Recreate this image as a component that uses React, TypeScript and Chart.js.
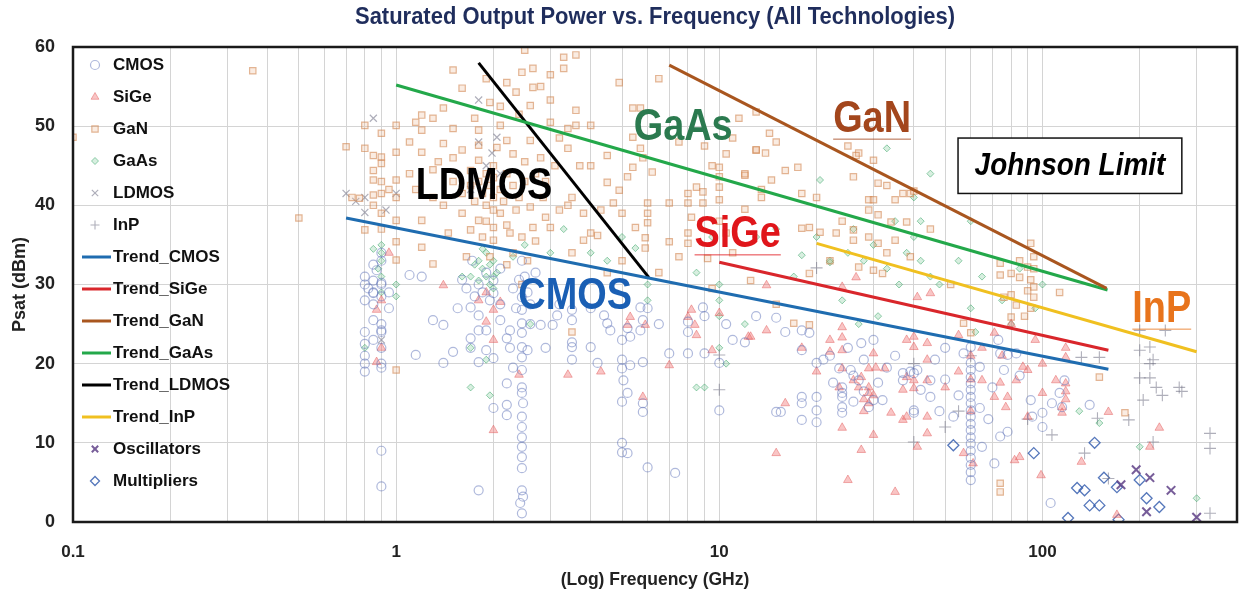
import { useEffect, useRef } from 'react';
import { Chart, registerables } from 'chart.js';
import { drawPoint } from 'chart.js/helpers';

Chart.register(...registerables);

type P = [number, number];

const titleText = 'Saturated Output Power vs. Frequency (All Technologies)';
const xAxisTitle = '(Log) Frequency (GHz)';
const yAxisTitle = 'Psat (dBm)';

const xGridValues = [0.1, 0.2, 0.3, 0.4, 0.5, 0.6, 0.7, 0.8, 0.9, 1, 2, 3, 4, 5, 6, 7, 8, 9, 10, 20, 30, 40, 50, 60, 70, 80, 90, 100, 200, 300, 400];
const xLabelValues = [0.1, 1, 10, 100];
const yTickValues = [0, 10, 20, 30, 40, 50, 60];

const cmos: P[] = [
  [0.8,31],[0.8,30],[0.8,28],[0.82,29.5],[0.85,30.5],[0.85,29],[0.85,27.5],[0.9,30],[0.9,28.5],[0.9,25],[0.9,24],[0.8,24],[0.8,22.5],[0.8,21],[0.8,20],[0.8,19],[0.9,20],[0.9,19.5],[0.85,25.5],[0.9,34],[0.9,33],[0.85,32.5],[0.9,9],[0.9,4.5],[0.87,31.8],[0.9,30.2],[0.85,28.9],[0.9,24.2],[1.1,31.2],[1.15,21.1],[0.95,29],[0.95,27],[0.85,23],[0.9,22],
  [1.4,24.9],[1.5,21.5],[1.4,20.1],[1.6,30.6],[1.7,27.1],[1.8,26.1],[1.7,23.2],[1.7,22],[1.8,24.2],[1.9,24.2],[1.8,20.2],[1.9,21.7],[1.72,33],[2,20.7],[2,14.4],[2.2,14.8],[2.2,13.5],[1.8,4],[2,28.9],[2.1,25.5],[2.25,24.2],[2.2,23.2],[2.25,22],[2.4,30.6],[2.45,28.4],[2.45,26.8],[2.45,25.1],[2.45,23.9],[2.45,22.1],[2.45,20.8],[2.45,19.2],[2.45,17],[2.45,16.3],[2.47,15],[2.45,13.3],[2.45,12],[2.45,10.7],[2.45,9.5],[2.45,8.2],[2.45,6.8],[2.45,4],[2.47,3.2],[2.42,2.4],[2.45,1.1],[2.8,24.9],[3.05,24.9],[3.15,26.1],[2.55,21.7],[1.8,30],[1.85,29],[1.9,31.5],[1.95,28],[2,30.5],[1.75,28.5],[1.65,29.5],[2.1,27.5],[2.3,29.5],[2.35,27],[2.5,31],[2.55,29],[2.6,27.5],[2.7,31.5],[2.45,33],[2.1,32],[1.55,27],[1.3,25.5],[1.2,31],[2.3,19.5],[2.2,17.5],[2.6,25],[2.9,22],
  [3.5,25.5],[3.5,22.7],[3.5,22.1],[3.5,20.5],[4,22.1],[4.2,20.1],[4.5,25.1],[4.6,24.2],[4.4,26.1],[5,23],[5,20.5],[5,19.4],[5.05,17.9],[5,15.2],[5.2,16.3],[5.3,19.8],[5.3,23.4],[5.2,24.5],[5.7,27.1],[5.8,25.5],[5.7,24.2],[5.8,20.2],[5.8,15],[5.8,13.9],[5,10],[5,8.8],[5.2,8.7],[6,6.9],[7.3,6.2],[7,21.3],[8,21.3],[8,25.3],[8.9,27.1],[9,21.3],[10,20.1],[10,14.1],[12,22.7],[3.5,26.8],[3.2,27.5],[4,27],[6,27],[6.5,25],[8,24],[9,26],
  [15,25.8],[15,13.9],[15.5,13.9],[18,21.7],[18,24.2],[18,15.8],[18,15],[18,12.9],[19,23.9],[20,20.1],[20,15.8],[20,14.1],[20,12.6],[21,20.5],[22.5,17.6],[23.5,19.4],[24,17],[24,15.8],[24,14.5],[24,13.8],[24,16.3],[26,15.2],[27.5,22.6],[30,15.4],[31,17.6],[32,15.4],[37,18.8],[40,18.8],[40,14.1],[27,17.9],[25.5,19.2],[26,18.5],[28,16.5],[29,14.5],[28,20.5],[33,19.5],[35,21],[30,23],[25,22],[22,21],[16,24],[13,26],[11,23],[10.5,25],
  [57,21.3],[60,20.1],[60,22.1],[60,19.2],[60,18.3],[60,17.5],[60,16.7],[60,15.8],[60,15],[60,14.1],[60,13.3],[60,12.4],[60,11.6],[60,10.7],[60,9.9],[60,9],[60,8.1],[60,7.2],[60,6.3],[60,5.3],[42,16.7],[45,17.9],[46.5,20.5],[45,15.8],[53,13.3],[64,19.6],[64,14.4],[65,9.5],[71,7.4],[73,23],[74,21.3],[76,19.2],[78,21.1],[83,21.3],[78,11.4],[74,10.8],[92,15.4],[93,13.3],[100,13.8],[100,12],[106,2.4],[107,15],[113,16.3],[117,17.9],[40,13.8],[39,19],[41,19.2],[37,17.9],[115,14.5],[140,14.8],[50,18],[55,16],[70,17],[85,18.5],[50,22],[48,14],[68,13],
];

const sige: P[] = [
  [0.9,28],[0.87,26.8],[0.9,22],[0.87,20.2],[0.95,34],[1.4,29.9],[1.9,29],[2,26.8],[1.9,25.3],[2,23],[2,11.6],[2.4,18.6],[2.1,27.8],[1.8,28],[3.4,18.6],[4.3,19],[5.3,25.9],[5.2,24.9],[5.9,24.9],[5.8,15.8],[7,19.8],[8.2,26.8],[8.4,24.9],[8.5,23.6],[8,25.9],[9.5,21.7],[12.3,23.4],[10,26.4],[14,29.9],[12.5,23.4],[14,24.2],[15,8.7],
  [22,23],[22,21.5],[24,24.6],[24,23.3],[24,21.7],[24,19.4],[23.5,17],[24,11.9],[25,5.3],[30,21.3],[29,19.4],[27.5,18.3],[27,17],[29,16.3],[29,17],[26,17.9],[30,11],[27.5,9.1],[24,29.7],[26.5,30.9],[30.5,19.5],[32.5,19.4],[35,3.8],[37,12.9],[37,16.7],[38,23],[40,22.1],[38,18.3],[34,13.8],[28,14],[28,15.5],[29,15],[30,16],[20,19],[18,22],[16,15],
  [45,28.9],[41,28.4],[40,23.4],[44,22.6],[44,20.5],[40,17.9],[44,17.9],[40,16.9],[38,13.3],[44,13.3],[44,11.2],[41,9.5],[55,23.6],[65,17.9],[71,15.8],[71,23.9],[74,17.6],[78,15.8],[77,14.5],[83,17.9],[87,19.6],[90,19.2],[95,23],[90,13.3],[85,8.2],[82,7.8],[99,5.9],[100,16.3],[110,17.9],[118,20.8],[118,17.5],[115,14.5],[57,8.7],[61,7.4],[118,22],[118,16.5],[118,15.5],[115,13.8],[160,13.9],[230,11.9],[215,9.5],[132,7.6],[170,0.9],[60,18],[60,14],[60,21],[55,19],[50,17],[65,22],[75,21],[80,25],[100,20],
];

const gan: P[] = [
  [0.1,48.6],[0.36,57],[0.5,38.4],[0.7,47.4],[0.73,41],[0.77,40.9],[0.8,50.1],[0.8,47.2],[0.8,36.9],[0.85,46.3],[0.85,44.4],[0.85,43.2],[0.85,41.3],[0.9,46.1],[0.9,45.3],[0.9,43],[0.9,41.5],[0.9,39],[0.9,49.1],[1,50.1],[1,46.7],[1,43.2],[1,41],[1,38.1],[1,35.4],[1,33.1],[1,19.2],[0.85,40],[0.95,42],[0.9,37],
  [1.2,51.4],[1.3,51],[1.4,52.3],[1.5,57.1],[1.6,54.8],[1.2,49.5],[1.5,49.7],[1.8,49.5],[2.1,50.1],[1.6,47],[1.2,46.7],[1.8,47.6],[2.05,47.3],[2.2,48.2],[2.6,48.2],[1.7,44.4],[1.8,45.7],[1.7,36.9],[1.8,38.1],[2,39.4],[2,37.2],[2.1,39],[2.35,39.4],[2.6,39.8],[2.85,41],[3.2,39.4],[3,37.2],[2.65,37.2],[2.25,36.5],[2.45,36],[2,35.6],[1.2,38.1],[1.2,34.7],[1.45,36.5],[2.5,59.6],[2.45,56.8],[2.65,57.3],[3.3,58.7],[3.3,57.3],[2.35,54.3],[2.65,54.9],[2.2,55.5],[1.95,53],[3,53.3],[2.6,52.6],[1.1,44],[1.15,42],[1.3,41],[1.3,44.5],[1.4,40],[1.5,43],[1.6,41.5],[1.6,39],[1.7,42.5],[1.75,40.5],[1.8,43],[1.85,41.5],[1.9,40],[1.9,44],[1.95,42.5],[2,41],[2,43.5],[2,45],[2.1,42],[2.15,40.5],[2.2,44],[2.3,42.5],[2.4,41],[2.5,43],[2.5,45.5],[2.7,44],[2.8,46],[2.9,43],[1.9,38],[2.2,37.5],[1.85,36],[1.65,33.5],[2.3,34],[2.7,35.5],[2.9,38.5],[3.1,45],[3.2,48.5],[3,50.5],[2.4,51.5],[2.8,55],[3,56.5],[1.75,51],[1.9,56],[2.1,52.5],[2.3,46.5],[1.5,46],[1.4,47.8],[1.35,45.5],[1.1,48],[1.15,50.5],[2.55,33],[2.2,32.5],[1.95,33.5],[3.5,24],[1.3,32.6],[2.45,30],
  [3.6,59],[4.9,55.5],[3.6,52],[5.4,52.3],[5.7,52.3],[11.5,51],[13,51.8],[3.6,50.1],[4,50.1],[3.4,49.7],[3.4,47.2],[5.4,48.6],[5.7,47.2],[5.8,46],[4.5,46.3],[3.7,45],[4,45],[4.5,42.9],[5.2,43.6],[5.4,44.8],[6.2,44.2],[4.9,41.9],[6,40.3],[7,40.3],[8,41.5],[8,40.3],[8.5,42.3],[8.9,41.7],[8.9,40.3],[10,44.8],[10,43.6],[10,42.3],[10,40.7],[12,44],[13,47],[4.7,40.3],[3.5,41],[3.4,40],[3.8,39],[4.3,39.4],[6,39],[6,37.8],[5.5,37.2],[5,39],[4.2,36.2],[4,36.5],[3.8,35.6],[5.9,35.9],[5.9,34.6],[7,35.4],[8,36.5],[8,35.2],[9.2,33.3],[3.5,34],[6.5,56],[7.5,48],[9,47.5],[9.5,45],[10.5,46.5],[11,48.5],[8.2,38.5],[10,38],[10.5,36.5],[11,34],[12,39.5],[7.5,33.5],[6.5,31.5],[12.5,30.5],[15,27.5],[9.5,29.5],[4.5,31.5],[5,33],[13.5,42],
  [14.3,49.1],[15,48],[13,47],[13.9,46.6],[16,44.4],[17.5,44.8],[12,43.8],[14.5,43.2],[13.5,41],[18,41.5],[20,41],[27,46.6],[30,45.7],[26,43.6],[31,42.8],[33,42.5],[29,40.7],[30,40.7],[35,40.7],[39,41.5],[29,39.4],[31,38.8],[34,37.9],[38,37.9],[18,37.1],[19,37.2],[20.5,36.6],[23,36.5],[26,36.9],[26,35.6],[29,36],[31,35.2],[35,35.6],[39,33.5],[33,34],[27,32.2],[30,31.8],[32,31.4],[19,31.4],[19,24.9],[17,25.1],[26.5,46.3],[37,41.5],[40,41.8],[22,33],[24,38],[25,47.5],
  [94,33.5],[90,32.2],[94,32],[74,31.2],[80,31.4],[85,30.9],[92,30.6],[94,29.7],[90,29.2],[80,28.7],[76,28.4],[94,28.4],[113,29],[83,27.4],[92,27],[80,25.9],[57,25.1],[60,23.9],[74,4.9],[74,3.8],[74,32.7],[92,35.2],[85,33],[88,26],[150,18.3],[180,13.8],[45,37],[52,30],
];

const gaas: P[] = [
  [0.9,35],[0.9,34],[0.9,33],[0.85,34.5],[0.9,31],[0.9,29],[1,30],[1,28.5],[0.8,22],[0.88,32],[1.8,33],[1.85,32],[1.9,31],[1.95,30],[2,29.5],[1.75,32.5],[1.8,30.5],[1.9,34],[2,33],[2,31],[1.85,34.5],[1.95,32.5],[2.05,31.5],[1.7,31],[2.3,33.5],[1.6,31],[1.7,22],[1.9,20.5],[1.7,17],[1.95,16],[2.5,35],[3,34],[3.3,37],[4.5,33],[5.5,34.6],[6,28],[6,30],[8.5,31.5],[9.5,36],[10,30],[10,28],[10,26],[10,22],[10.5,20],[9,17],[8.5,17],[13,36],[12,25],[15,37],[17,31],[20,36],[22,33],[24,28],[25,34],[26,37],[28,33],[30,35],[33,32],[35,38],[36,30],[40,41],[40,36],[42,33],[45,44],[45,31],[48,30],[55,33],[60,38],[60,27],[62,24],[65,31],[75,28],[80,25],[85,32],[95,27],[100,30],[130,14],[150,12.5],[200,9.5],[300,3],[33,47.2],[20.5,43.2],[18,33.7],[22,32.8],[5,36],[4,34],[2.6,25],[27,25],[31,26],[42,38],[38,34],
];

const ldmos: P[] = [
  [0.7,41.5],[0.85,51],[0.8,41],[0.8,39.1],[1,41.5],[0.93,39.4],[1.8,53.3],[2.05,48.6],[1.8,48],[1.98,46.6],[0.9,23],[1.9,45],[2.1,44],[0.75,40.5],[1.7,42],
];

const inp: P[] = [
  [10,21.1],[10,16.7],[20,32.1],[40,10.1],[132,20.8],[150,20.8],[200,21.7],[215,22.1],[220,20.5],[200,18.2],[215,18.2],[225,17],[235,16],[265,17],[270,16.5],[205,15.4],[148,13.1],[185,12.9],[107,11],[135,8.7],[220,10.1],[330,11.2],[330,9.3],[330,1.1],[200,24.2],[240,24.2],[215,20],[50,12],[55,14],[40,20],[60,21],[90,13],[160,5.5],
];

const oscillators: P[] = [[195,6.6],[175,4.7],[215,5.6],[250,4],[210,1.3],[300,0.6]];

const multipliers: P[] = [
  [145,10],[155,5.6],[128,4.3],[135,4],[140,2.1],[150,2.1],[170,4.4],[200,5.3],[210,3],[230,1.9],[120,0.5],[172,0.3],[53,9.7],[94,8.7],
];

const trendCmos: P[] = [[0.7, 38.4], [160, 19.3]];
const trendSige: P[] = [[10, 32.8], [160, 21.7]];
const trendGan: P[] = [[7, 57.7], [158, 29.5]];
const trendGaas: P[] = [[1, 55.2], [159, 29.3]];
const trendLdmos: P[] = [[1.8, 58], [6.05, 30.9]];
const trendInp: P[] = [[20, 35.2], [300, 21.5]];

// annotation labels: [text, freq, psat, color, underline]
const labels: [string, number, number, string, boolean][] = [
  ['LDMOS', 1.87, 42.6, '#000000', false],
  ['GaAs', 7.73, 50.1, '#2b7a4f', false],
  ['GaN', 29.7, 51.1, '#a3461c', true],
  ['SiGe', 11.4, 36.5, '#e0161b', true],
  ['CMOS', 3.58, 28.7, '#1a5fb4', false],
  ['InP', 234, 27.1, '#e8741c', true],
];
const johnsonText = 'Johnson Limit';
const johnsonBox = { f0: 54.8, f1: 270, p0: 48.5, p1: 41.5 };

const FONT = "'Liberation Sans', Arial, sans-serif";

const toXY = (arr: P[]) => arr.map(([x, y]) => ({ x, y }));

const series = [
  { label: 'CMOS', data: cmos, pointStyle: 'circle', radius: 4.5, border: 'rgba(95,115,185,0.5)', bg: 'rgba(0,0,0,0)', bw: 1.2 },
  { label: 'SiGe', data: sige, pointStyle: 'triangle', radius: 5, border: 'rgba(225,85,85,0.45)', bg: 'rgba(240,110,110,0.4)', bw: 1 },
  { label: 'GaN', data: gan, pointStyle: 'rect', radius: 4.5, border: 'rgba(205,125,70,0.55)', bg: 'rgba(235,180,140,0.25)', bw: 1.2 },
  { label: 'GaAs', data: gaas, pointStyle: 'rectRot', radius: 3.5, border: 'rgba(60,165,105,0.55)', bg: 'rgba(100,190,130,0.25)', bw: 1 },
  { label: 'LDMOS', data: ldmos, pointStyle: 'crossRot', radius: 5, border: 'rgba(120,120,140,0.6)', bg: 'rgba(0,0,0,0)', bw: 1.2 },
  { label: 'InP', data: inp, pointStyle: 'cross', radius: 6, border: 'rgba(110,110,130,0.55)', bg: 'rgba(0,0,0,0)', bw: 1.1 },
];
const extraSeries = [
  { label: 'Oscillators', data: oscillators, pointStyle: 'crossRot', radius: 6, border: 'rgba(95,65,135,0.85)', bg: 'rgba(0,0,0,0)', bw: 2 },
  { label: 'Multipliers', data: multipliers, pointStyle: 'rectRot', radius: 5.5, border: 'rgba(55,95,175,0.85)', bg: 'rgba(0,0,0,0)', bw: 1.3 },
];
const trends = [
  { label: 'Trend_CMOS', data: trendCmos, color: '#1f6cb0' },
  { label: 'Trend_SiGe', data: trendSige, color: '#d9262b' },
  { label: 'Trend_GaN', data: trendGan, color: '#a9561f' },
  { label: 'Trend_GaAs', data: trendGaas, color: '#23a84a' },
  { label: 'Trend_LDMOS', data: trendLdmos, color: '#000000' },
  { label: 'Trend_InP', data: trendInp, color: '#f0c020' },
];

const overlayPlugin = {
  id: 'overlay',
  afterDatasetsDraw(chart: any) {
    const { ctx, chartArea: a, scales } = chart;
    const xs = scales.x;
    const ys = scales.y;
    ctx.save();
    // annotation labels
    for (const [text, f, p, color, ul] of labels) {
      const cx = xs.getPixelForValue(f);
      const cy = ys.getPixelForValue(p);
      ctx.save();
      ctx.translate(cx, cy);
      ctx.scale(0.86, 1);
      ctx.font = `bold 44px ${FONT}`;
      ctx.textAlign = 'center';
      ctx.textBaseline = 'middle';
      ctx.fillStyle = color;
      ctx.fillText(text, 0, 2);
      if (ul) {
        const w = ctx.measureText(text).width;
        ctx.globalAlpha = 0.55;
        ctx.fillRect(-w / 2, 21, w, 1.5);
      }
      ctx.restore();
    }
    // Johnson box
    const bx0 = xs.getPixelForValue(johnsonBox.f0);
    const bx1 = xs.getPixelForValue(johnsonBox.f1);
    const by0 = ys.getPixelForValue(johnsonBox.p0);
    const by1 = ys.getPixelForValue(johnsonBox.p1);
    ctx.fillStyle = '#ffffff';
    ctx.fillRect(bx0, by0, bx1 - bx0, by1 - by0);
    ctx.strokeStyle = '#111';
    ctx.lineWidth = 1.5;
    ctx.strokeRect(bx0, by0, bx1 - bx0, by1 - by0);
    ctx.save();
    ctx.translate((bx0 + bx1) / 2, (by0 + by1) / 2);
    ctx.scale(0.9, 1);
    ctx.font = `italic bold 31px ${FONT}`;
    ctx.textAlign = 'center';
    ctx.textBaseline = 'middle';
    ctx.fillStyle = '#000';
    ctx.fillText(johnsonText, 0, 1);
    ctx.restore();

    // plot border
    ctx.strokeStyle = '#1a1a1a';
    ctx.lineWidth = 2.5;
    ctx.strokeRect(a.left, a.top, a.right - a.left, a.bottom - a.top);

    // legend
    const mx = a.left + 22;
    const tx = a.left + 40;
    let ly = a.top + 18;
    const step = 32;
    ctx.font = `bold 17px ${FONT}`;
    ctx.textBaseline = 'middle';
    ctx.textAlign = 'left';
    const drawMarker = (s: any) => {
      ctx.save();
      ctx.strokeStyle = s.border;
      ctx.fillStyle = s.bg;
      ctx.lineWidth = s.bw;
      drawPoint(ctx, { pointStyle: s.pointStyle, radius: Math.min(s.radius, 4.5), rotation: 0, borderWidth: s.bw } as any, mx, ly);
      ctx.restore();
      ctx.fillStyle = '#111';
      ctx.fillText(s.label, tx, ly);
      ly += step;
    };
    for (const s of series) drawMarker(s);
    for (const t of trends) {
      ctx.strokeStyle = t.color;
      ctx.lineWidth = 3;
      ctx.beginPath();
      ctx.moveTo(a.left + 9, ly);
      ctx.lineTo(a.left + 38, ly);
      ctx.stroke();
      ctx.fillStyle = '#111';
      ctx.fillText(t.label, tx, ly);
      ly += step;
    }
    for (const s of extraSeries) drawMarker(s);
    ctx.restore();
  },
  afterDraw(chart: any) {
    const { ctx, chartArea: a } = chart;
    const cx = (a.left + a.right) / 2;
    ctx.save();
    ctx.textAlign = 'center';
    ctx.textBaseline = 'middle';
    // title, fitted to the reference's width
    ctx.fillStyle = '#1f2d5c';
    ctx.font = `bold 23px ${FONT}`;
    const tw = ctx.measureText(titleText).width;
    ctx.save();
    ctx.translate(cx, 18);
    ctx.scale(600 / tw, 1);
    ctx.fillText(titleText, 0, 0);
    ctx.restore();
    ctx.fillStyle = '#222';
    ctx.font = `bold 17.5px ${FONT}`;
    ctx.fillText(xAxisTitle, cx, 580);
    ctx.save();
    ctx.translate(20, (a.top + a.bottom) / 2);
    ctx.rotate(-Math.PI / 2);
    ctx.font = `bold 18px ${FONT}`;
    ctx.fillText(yAxisTitle, 0, 0);
    ctx.restore();
    ctx.restore();
  },
};

export default function App() {
  const ref = useRef<HTMLCanvasElement | null>(null);
  useEffect(() => {
    if (!ref.current) return;
    const datasets: any[] = [];
    trends.forEach((t) => {
      datasets.push({
        label: t.label, data: toXY(t.data), showLine: true, borderColor: t.color, backgroundColor: t.color,
        borderWidth: 3, pointRadius: 0, order: 0,
      });
    });
    [...series, ...extraSeries].forEach((s) => {
      datasets.push({
        label: s.label, data: toXY(s.data), pointStyle: s.pointStyle, pointRadius: s.radius,
        borderColor: s.border, backgroundColor: s.bg, borderWidth: s.bw, showLine: false, order: 1,
      });
    });
    const chart = new Chart(ref.current, {
      type: 'scatter',
      data: { datasets },
      options: {
        animation: false,
        responsive: false,
        devicePixelRatio: 1,
        layout: { autoPadding: false, padding: { left: 0, right: 2, top: 47, bottom: 0 } },
        plugins: { legend: { display: false }, tooltip: { enabled: false }, title: { display: false } },
        scales: {
          x: {
            type: 'logarithmic',
            min: 0.1,
            max: 400,
            afterBuildTicks: (scale: any) => { scale.ticks = xGridValues.map((v) => ({ value: v })); },
            afterFit: (scale: any) => { scale.height = 74; scale.paddingLeft = 0; scale.paddingRight = 0; },
            border: { display: false },
            grid: { color: '#d4d4d4', lineWidth: 1, drawTicks: false },
            ticks: {
              autoSkip: false, maxRotation: 0, padding: 20, color: '#222',
              font: { family: FONT, size: 17, weight: 'bold' },
              callback: (v: any) => (xLabelValues.includes(Number(v)) ? String(v) : ''),
            },
          },
          y: {
            min: 0,
            max: 60,
            afterBuildTicks: (scale: any) => { scale.ticks = yTickValues.map((v) => ({ value: v })); },
            afterFit: (scale: any) => { scale.width = 73; scale.paddingTop = 0; scale.paddingBottom = 0; },
            border: { display: false },
            grid: { color: '#d4d4d4', lineWidth: 1, drawTicks: false },
            ticks: { padding: 18, color: '#222', font: { family: FONT, size: 18, weight: 'bold' } },
          },
        },
      } as any,
      plugins: [overlayPlugin],
    });
    return () => chart.destroy();
  }, []);
  return (
    <div style={{ position: 'fixed', left: 0, top: 0, width: 1239, height: 596, background: '#fff' }}>
      <canvas ref={ref} width={1239} height={596} />
    </div>
  );
}
